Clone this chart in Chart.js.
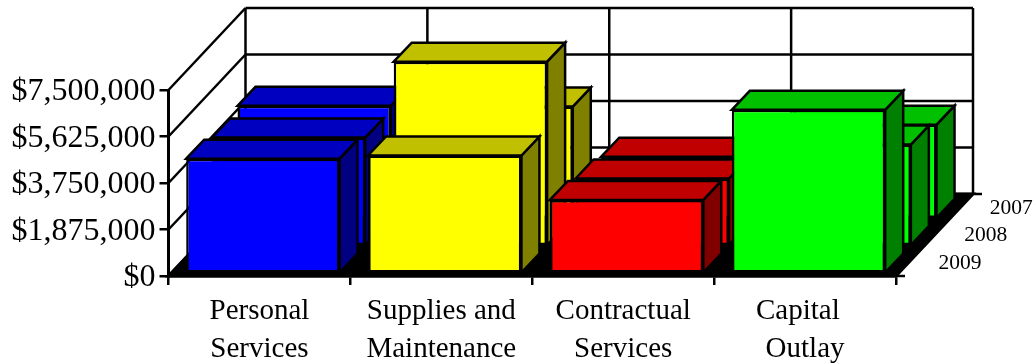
<!DOCTYPE html>
<html>
<head>
<meta charset="utf-8">
<title>Expenditures by category</title>
<style>
  html, body { margin: 0; padding: 0; background: #fff; }
  canvas { display: block; }
</style>
<script src="https://cdn.jsdelivr.net/npm/chart.js@4/dist/chart.umd.min.js"></script>
</head>
<body>
<canvas id="chart" width="1036" height="364"></canvas>
<script>
const categories = [['Personal', 'Services'], ['Supplies and', 'Maintenance'], ['Contractual', 'Services'], ['Capital  ', 'Outlay']];
const years = ['2009', '2008', '2007'];
const values2009 = [4640000, 4770000, 2980000, 6610000];
const values2008 = [4390000, 7450000, 2740000, 4110000];
const values2007 = [4570000, 4540000, 2520000, 3810000];
const yTicks = [0, 1875000, 3750000, 5625000, 7500000];

const frontColors = ['#0000ff', '#ffff00', '#ff0000', '#00ff00'];
const topColors = ['#0000c0', '#c0c000', '#c00000', '#00c000'];
const sideColors = ['#000080', '#808000', '#800000', '#008000'];

const FONT = '"Liberation Serif", "Times New Roman", serif';
const DEPTH_X = 77;
const DEPTH_Y = 82;
const ROW_X = DEPTH_X / years.length;
const ROW_Y = DEPTH_Y / years.length;
const BAR_DEPTH_X = 18;
const BAR_DEPTH_Y = 19;
const BAR_INSET_Y = 2.2;
const LINE = 2.5;

function money(v) {
  return '$' + v.toLocaleString('en-US');
}

function rowOffset(row) {
  return {
    x: (ROW_X - BAR_DEPTH_X) / 2 - 0.4 + row * ROW_X,
    y: -(BAR_INSET_Y + row * ROW_Y)
  };
}

function line(ctx, x1, y1, x2, y2) {
  ctx.beginPath();
  ctx.moveTo(x1, y1);
  ctx.lineTo(x2, y2);
  ctx.stroke();
}

function face(ctx, points, fill) {
  ctx.beginPath();
  points.forEach((p, i) => (i ? ctx.lineTo(p[0], p[1]) : ctx.moveTo(p[0], p[1])));
  ctx.closePath();
  ctx.fillStyle = fill;
  ctx.fill();
  ctx.stroke();
}

const box3d = {
  id: 'box3d',

  // the value labels sit a bit low in the original, so nudge them down
  afterLayout(chart) {
    const y = chart.scales.y;
    if (y.labelsNudged) return;
    const drawLabels = y.drawLabels;
    y.drawLabels = function (area) {
      this.ctx.save();
      this.ctx.translate(0, 2);
      drawLabels.call(this, area);
      this.ctx.restore();
    };
    y.labelsNudged = true;
  },

  // walls, gridlines and the black floor
  beforeDatasetsDraw(chart) {
    const { ctx, chartArea: a, scales } = chart;
    ctx.save();
    ctx.strokeStyle = '#000';
    ctx.lineWidth = LINE;
    yTicks.forEach((t) => {
      const y = scales.y.getPixelForValue(t);
      line(ctx, a.left, y, a.left + DEPTH_X, y - DEPTH_Y);
      line(ctx, a.left + DEPTH_X, y - DEPTH_Y, a.right + DEPTH_X, y - DEPTH_Y);
    });
    const step = (a.right - a.left) / categories.length;
    for (let i = 0; i <= categories.length; i++) {
      const x = a.left + i * step + DEPTH_X;
      line(ctx, x, a.top - DEPTH_Y, x, a.bottom - DEPTH_Y);
    }
    ctx.lineWidth = 3;
    face(ctx, [
      [a.left, a.bottom],
      [a.right, a.bottom],
      [a.right + DEPTH_X, a.bottom - DEPTH_Y],
      [a.left + DEPTH_X, a.bottom - DEPTH_Y]
    ], '#000');
    ctx.lineWidth = LINE;
    line(ctx, a.right, a.bottom, a.right + 9, a.bottom);
    line(ctx, a.right + DEPTH_X, a.bottom - DEPTH_Y, a.right + DEPTH_X + 9, a.bottom - DEPTH_Y);

    ctx.fillStyle = '#000';
    ctx.font = '21.5px ' + FONT;
    ctx.textAlign = 'left';
    ctx.textBaseline = 'middle';
    years.forEach((year, row) => {
      ctx.fillText(year, a.right + 42.5 + row * ROW_X, a.bottom - 13 - row * ROW_Y);
    });
    ctx.restore();
  },

  // top and side of each bar, then the library draws the front shifted into its row
  beforeDatasetDraw(chart, args) {
    const { ctx } = chart;
    const meta = chart.getDatasetMeta(args.index);
    const off = rowOffset(args.index);
    ctx.save();
    ctx.translate(off.x, off.y);
    ctx.strokeStyle = '#000';
    ctx.lineWidth = LINE;
    meta.data.forEach((bar, i) => {
      const left = bar.x - bar.width / 2;
      const right = bar.x + bar.width / 2;
      face(ctx, [
        [right, bar.y],
        [right + BAR_DEPTH_X, bar.y - BAR_DEPTH_Y],
        [right + BAR_DEPTH_X, bar.base - BAR_DEPTH_Y],
        [right, bar.base]
      ], sideColors[i]);
      face(ctx, [
        [left, bar.y],
        [left + BAR_DEPTH_X, bar.y - BAR_DEPTH_Y],
        [right + BAR_DEPTH_X, bar.y - BAR_DEPTH_Y],
        [right, bar.y]
      ], topColors[i]);
    });
  },

  afterDatasetDraw(chart) {
    chart.ctx.restore();
  },

  // little category marks that poke up from the floor
  afterDatasetsDraw(chart) {
    const { ctx, chartArea: a, scales } = chart;
    ctx.save();
    ctx.strokeStyle = '#000';
    ctx.lineWidth = 2;
    categories.forEach((c, i) => {
      const x = scales.x.getPixelForTick(i);
      line(ctx, x, a.bottom, x, a.bottom - 6);
    });
    ctx.restore();
  }
};

const barDefaults = {
  backgroundColor: frontColors,
  borderColor: '#000',
  borderWidth: LINE,
  borderSkipped: false,
  barPercentage: 1,
  categoryPercentage: 153.5 / 182
};

new Chart(document.getElementById('chart'), {
  type: 'bar',
  data: {
    labels: categories,
    datasets: [
      { label: years[0], data: values2009, ...barDefaults },
      { label: years[1], data: values2008, ...barDefaults },
      { label: years[2], data: values2007, ...barDefaults }
    ]
  },
  options: {
    responsive: false,
    animation: false,
    layout: { padding: { top: 90, right: 140, left: 0, bottom: 0 } },
    plugins: { legend: { display: false }, tooltip: { enabled: false } },
    datasets: { bar: { grouped: false } },
    scales: {
      x: {
        afterFit: (scale) => { scale.height = 88; },
        grid: { offset: true, drawOnChartArea: false, color: '#000', lineWidth: LINE, tickLength: 9 },
        border: { color: '#000', width: LINE },
        ticks: {
          color: '#000',
          maxRotation: 0,
          autoSkip: false,
          padding: 8,
          font: { family: FONT, size: 29, lineHeight: 1.29 }
        }
      },
      y: {
        min: 0,
        max: 7500000,
        afterFit: (scale) => { scale.width = 168.5; },
        afterBuildTicks: (scale) => { scale.ticks = yTicks.map((value) => ({ value })); },
        grid: { drawOnChartArea: false, color: '#000', lineWidth: LINE, tickLength: 9 },
        border: { color: '#000', width: 3 },
        ticks: {
          color: '#000',
          padding: 4,
          callback: (v) => money(v),
          font: { family: FONT, size: 32 }
        }
      }
    }
  },
  plugins: [box3d]
});
</script>
</body>
</html>
